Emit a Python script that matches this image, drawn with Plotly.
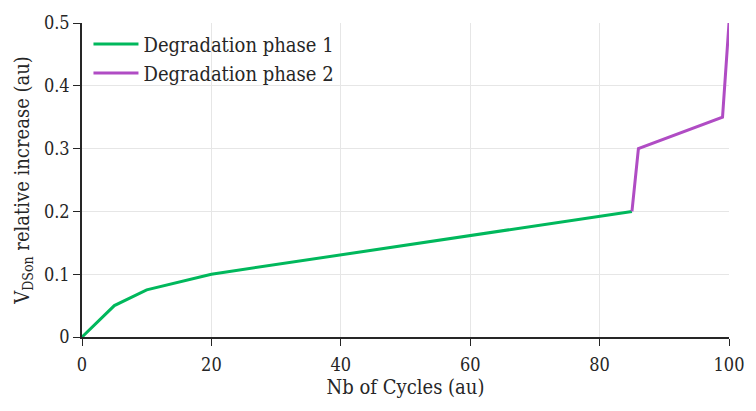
import plotly.graph_objects as go

phase1_x = [0, 5, 10, 20, 85]
phase1_y = [0, 0.05, 0.075, 0.1, 0.2]
phase2_x = [85, 86, 99, 100]
phase2_y = [0.2, 0.3, 0.35, 0.5]
x_ticks = [0, 20, 40, 60, 80, 100]
y_ticks = [0, 0.1, 0.2, 0.3, 0.4, 0.5]
y_tick_labels = ["0", "0.1", "0.2", "0.3", "0.4", "0.5"]

font = "DejaVu Serif Condensed, DejaVu Serif"
fig = go.Figure()
fig.add_trace(go.Scatter(x=phase1_x, y=phase1_y, mode="lines", name="Degradation phase 1",
                         line=dict(color="#00b85c", width=3)))
fig.add_trace(go.Scatter(x=phase2_x, y=phase2_y, mode="lines", name="Degradation phase 2",
                         line=dict(color="#b04cc4", width=3)))
axis_common = dict(showline=True, linecolor="#262626", linewidth=1.5, ticks="outside",
                   ticklen=7, tickcolor="#262626", showgrid=True, gridcolor="#e6e6e6",
                   zeroline=False, tickfont=dict(size=18, color="#262626", family=font))
fig.update_layout(
    width=756, height=411,
    margin=dict(l=82, r=26, t=16, b=74),
    plot_bgcolor="white", paper_bgcolor="white",
    font=dict(family=font, color="#262626"),
    xaxis=dict(range=[0, 100], tickvals=x_ticks, ticklabelstandoff=4,
               title=dict(text="Nb of Cycles (au)", font=dict(size=20), standoff=4), **axis_common),
    yaxis=dict(range=[0, 0.5], tickvals=y_ticks, ticktext=y_tick_labels,
               title=dict(text="V<sub>DSon</sub> relative increase (au)", font=dict(size=20), standoff=9),
               **axis_common),
    legend=dict(x=0.01, y=0.995, xanchor="left", yanchor="top", bgcolor="rgba(0,0,0,0)",
                itemwidth=45, tracegroupgap=0,
                font=dict(size=20, family=font, color="#262626")),
)
fig.write_html("out.html")
